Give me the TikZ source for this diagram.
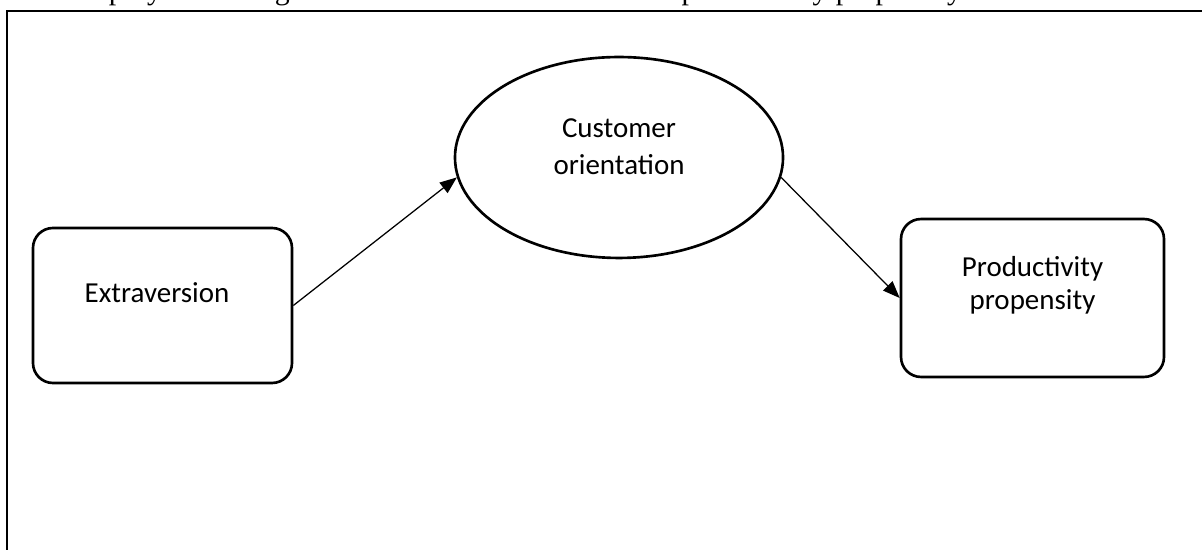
\documentclass[tikz,border=0pt]{standalone}
\usepackage{fontspec}
\setmainfont{Liberation Serif}
\newfontfamily\boxfont{Carlito}
\usetikzlibrary{shapes.geometric,arrows.meta}
\begin{document}
\begin{tikzpicture}[x=0.435pt,y=-0.435pt,
  frame/.style={line width=0.9pt},
  factor/.style={draw, line width=1.15pt, rounded corners=8.7pt, inner sep=0pt},
  construct/.style={draw, ellipse, line width=1.15pt, inner sep=0pt},
  captext/.style={font=\fontsize{13}{15}\selectfont, anchor=base west, inner sep=0pt},
  boxtext/.style={font=\boxfont\fontsize{12.6}{14.4}\selectfont, align=center, inner sep=0pt, anchor=base},
  link/.style={-{Triangle[length=7.4pt,width=5.7pt]}, line width=0.55pt}]
\useasboundingbox (0,0) rectangle (1202,550);
\clip (0,0) rectangle (1202,550);

% running text of the page, cut by the top edge
\node[captext] (cap) at (67,-0.5) {\spaceskip=3.6pt\relax Employee training in customer orientation and the productivity propensity};

% frame around the model
\draw[frame] (7,560) -- (7,11) -- (1210,11);

% constructs
\node[factor, minimum width=112.67pt, minimum height=67.43pt] (ext) at (162.5,305.5) {};
\node[boxtext] (extt) at (157,303) {Extraversion};

\node[construct, minimum width=142.7pt, minimum height=87.4pt] (co) at (619,157.5) {};
\node[boxtext] (cot) at (619,175) {Customer\\[2.1pt]orientation};

\node[factor, minimum width=114.4pt, minimum height=68.7pt] (prod) at (1032.5,298) {};
\node[boxtext] (prodt) at (1032.5,310) {Productivity\\propensity};

% paths
\draw[link] (ext.east) -- (co.187.3);
\draw[link] (co.353.2) -- (prod.west);
\end{tikzpicture}
\end{document}
